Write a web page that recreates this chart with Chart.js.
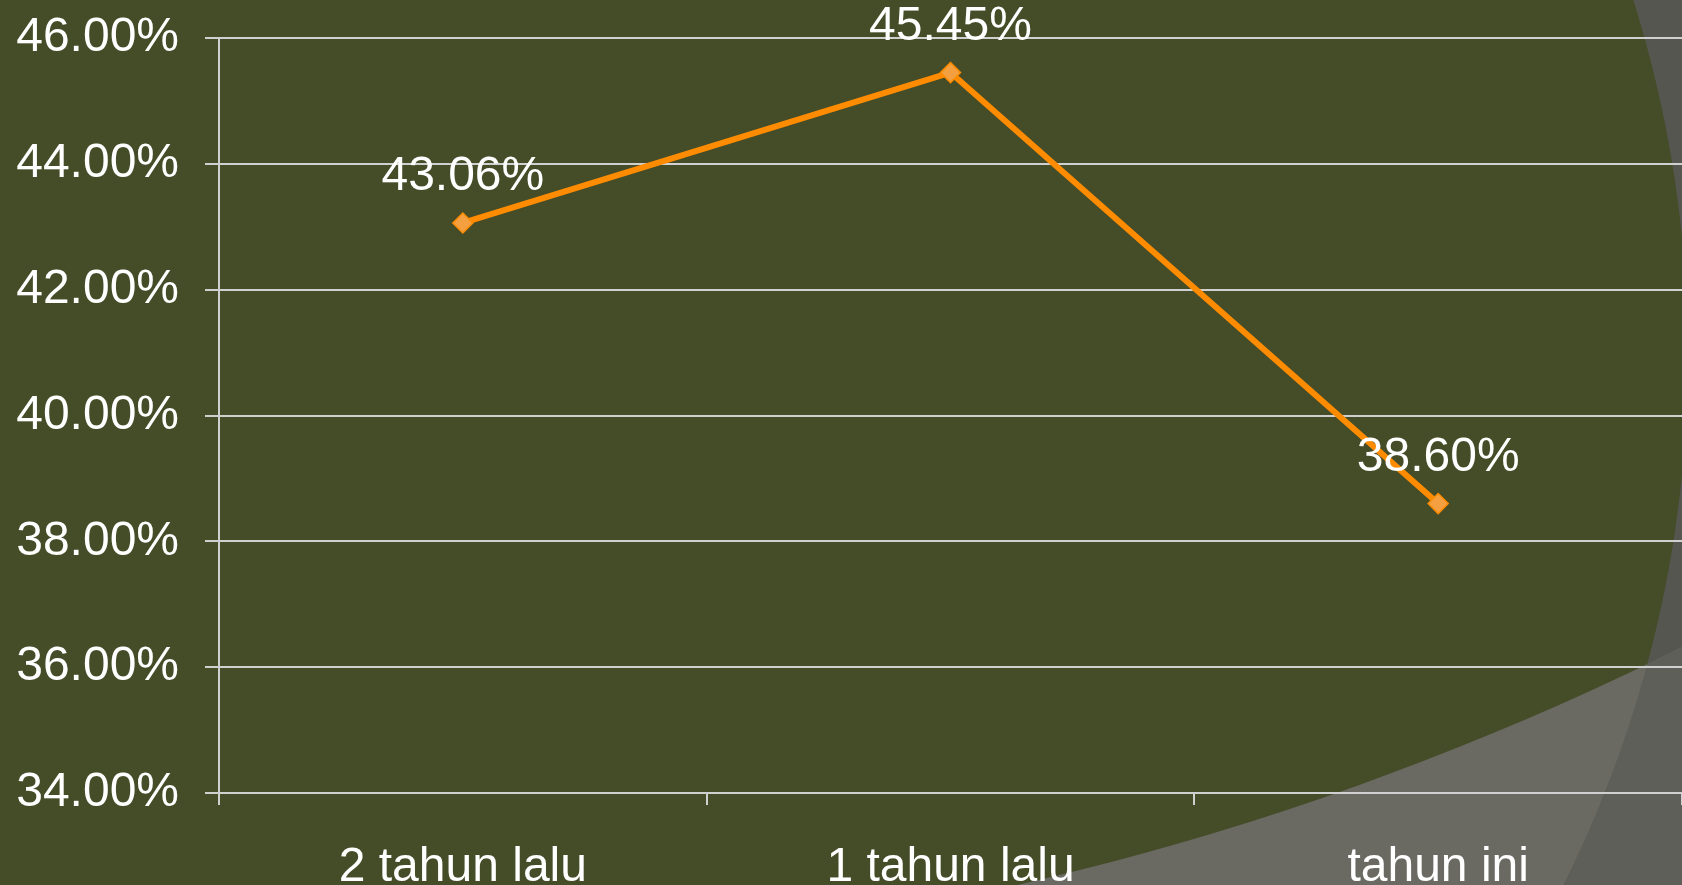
<!DOCTYPE html>
<html>
<head>
<meta charset="utf-8">
<script src="https://cdn.jsdelivr.net/npm/chart.js@4.4.0/dist/chart.umd.min.js"></script>
<style>
  html, body { margin: 0; padding: 0; background: #454C28; overflow: hidden; }
  #wrap { width: 1682px; height: 885px; }
</style>
</head>
<body>
<div id="wrap"><canvas id="grafico" width="1682" height="885"></canvas></div>
<script>
// dati del grafico
var categorie = ['2 tahun lalu', '1 tahun lalu', 'tahun ini'];
var valori = [43.06, 45.45, 38.60];
var etichetteY = ['34.00%', '36.00%', '38.00%', '40.00%', '42.00%', '44.00%', '46.00%'];
var yMin = 34;
var yMax = 46;
var yPasso = 2;

var bianco = '#FFFFFF';
var griglia = '#D0D0D0';
var font48 = { family: '"Liberation Sans", Arial, sans-serif', size: 48 };

// sfondo con le curve grigie a destra
var sfondo = {
  id: 'sfondo',
  beforeDraw: function(chart) {
    var ctx = chart.ctx, w = chart.width, h = chart.height;
    ctx.save();
    ctx.fillStyle = '#454C28';
    ctx.fillRect(0, 0, w, h);

    ctx.beginPath();
    ctx.rect(0, 0, w, h);
    ctx.arc(503, 356, 1185, 0, Math.PI * 2);
    ctx.fillStyle = '#55564F';
    ctx.fill('evenodd');

    ctx.beginPath();
    ctx.rect(0, 0, w, h);
    ctx.arc(354, -2014, 2974, 0, Math.PI * 2);
    ctx.clip('evenodd');
    ctx.fillStyle = '#6A6A63';
    ctx.fillRect(0, 0, w, h);
    ctx.beginPath();
    ctx.rect(0, 0, w, h);
    ctx.arc(503, 356, 1185, 0, Math.PI * 2);
    ctx.fillStyle = '#5F5F59';
    ctx.fill('evenodd');
    ctx.restore();
  }
};

// etichette dei valori sopra i punti
var etichette = {
  id: 'etichette',
  afterDatasetsDraw: function(chart) {
    var ctx = chart.ctx;
    var meta = chart.getDatasetMeta(0);
    ctx.save();
    ctx.font = '48px "Liberation Sans", Arial, sans-serif';
    ctx.fillStyle = bianco;
    ctx.textAlign = 'center';
    ctx.textBaseline = 'alphabetic';
    meta.data.forEach(function(p, i) {
      ctx.fillText(valori[i].toFixed(2) + '%', p.x, p.y - 33);
    });
    ctx.restore();
  }
};

function senzaPadding(s) {
  s.paddingTop = 0;
  s.paddingBottom = 0;
  s.paddingLeft = 0;
  s.paddingRight = 0;
}

var ctx = document.getElementById('grafico').getContext('2d');
var grafico = new Chart(ctx, {
  type: 'line',
  data: {
    labels: categorie,
    datasets: [{
      data: valori,
      borderColor: '#FF8C00',
      borderWidth: 6,
      tension: 0,
      fill: false,
      clip: false,
      pointStyle: 'rectRot',
      pointRadius: 10,
      pointBackgroundColor: '#F4A040',
      pointBorderColor: '#FF8C00',
      pointBorderWidth: 1.5
    }]
  },
  options: {
    responsive: false,
    animation: false,
    devicePixelRatio: 1,
    layout: { autoPadding: false, padding: { top: 38, right: 0, bottom: 0, left: 0 } },
    plugins: {
      legend: { display: false },
      tooltip: { enabled: false }
    },
    scales: {
      x: {
        offset: true,
        grid: { offset: true, drawOnChartArea: false, drawTicks: true, tickLength: 12, color: griglia, lineWidth: 2 },
        border: { color: griglia, width: 2 },
        ticks: { color: bianco, font: font48, padding: 34, maxRotation: 0, autoSkip: false },
        afterFit: function(s) { s.height = 92; senzaPadding(s); }
      },
      y: {
        min: yMin,
        max: yMax,
        grid: { color: griglia, lineWidth: 2, tickLength: 14 },
        border: { color: griglia, width: 2 },
        ticks: {
          stepSize: yPasso,
          color: bianco,
          font: font48,
          padding: 26,
          callback: function(v, i) { return etichetteY[i]; }
        },
        afterFit: function(s) { s.width = 219; senzaPadding(s); }
      }
    }
  },
  plugins: [sfondo, etichette]
});
</script>
</body>
</html>
